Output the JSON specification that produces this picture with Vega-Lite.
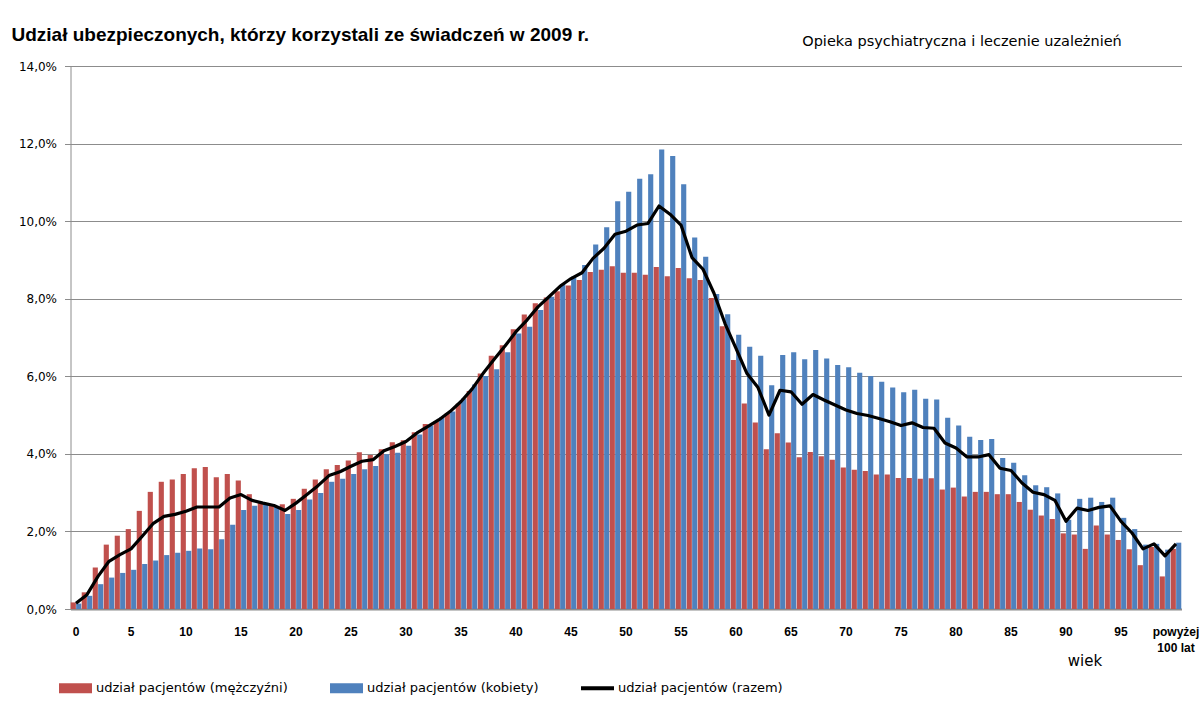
{
  "$schema": "https://vega.github.io/schema/vega-lite/v6.json",
  "width": 1111,
  "height": 543,
  "autosize": {"type": "none"},
  "padding": {"left": 70.5, "top": 66, "right": 18.5, "bottom": 111},
  "background": "white",
  "title": {
    "text": "Udział ubezpieczonych, którzy korzystali ze świadczeń w 2009 r.",
    "anchor": "start",
    "frame": "group",
    "font": "Liberation Sans",
    "fontSize": 19,
    "fontWeight": "bold",
    "color": "black",
    "baseline": "alphabetic",
    "dx": -59,
    "dy": 42,
    "offset": 16
  },
  "config": {"view": {"stroke": null}},
  "datasets": {
    "wiek": [
      {"wiek": 0, "mezczyzni": 0.17, "kobiety": 0.14, "razem": 0.15},
      {"wiek": 1, "mezczyzni": 0.43, "kobiety": 0.34, "razem": 0.37},
      {"wiek": 2, "mezczyzni": 1.07, "kobiety": 0.64, "razem": 0.84},
      {"wiek": 3, "mezczyzni": 1.66, "kobiety": 0.81, "razem": 1.23},
      {"wiek": 4, "mezczyzni": 1.89, "kobiety": 0.93, "razem": 1.4},
      {"wiek": 5, "mezczyzni": 2.06, "kobiety": 1.01, "razem": 1.55},
      {"wiek": 6, "mezczyzni": 2.53, "kobiety": 1.16, "razem": 1.87},
      {"wiek": 7, "mezczyzni": 3.02, "kobiety": 1.25, "razem": 2.2},
      {"wiek": 8, "mezczyzni": 3.28, "kobiety": 1.39, "razem": 2.39},
      {"wiek": 9, "mezczyzni": 3.34, "kobiety": 1.45, "razem": 2.44},
      {"wiek": 10, "mezczyzni": 3.48, "kobiety": 1.5, "razem": 2.52},
      {"wiek": 11, "mezczyzni": 3.63, "kobiety": 1.56, "razem": 2.63},
      {"wiek": 12, "mezczyzni": 3.66, "kobiety": 1.54, "razem": 2.63},
      {"wiek": 13, "mezczyzni": 3.4, "kobiety": 1.8, "razem": 2.63},
      {"wiek": 14, "mezczyzni": 3.48, "kobiety": 2.17, "razem": 2.86},
      {"wiek": 15, "mezczyzni": 3.31, "kobiety": 2.55, "razem": 2.95},
      {"wiek": 16, "mezczyzni": 2.96, "kobiety": 2.66, "razem": 2.8},
      {"wiek": 17, "mezczyzni": 2.73, "kobiety": 2.7, "razem": 2.73},
      {"wiek": 18, "mezczyzni": 2.66, "kobiety": 2.63, "razem": 2.67},
      {"wiek": 19, "mezczyzni": 2.7, "kobiety": 2.45, "razem": 2.54},
      {"wiek": 20, "mezczyzni": 2.84, "kobiety": 2.55, "razem": 2.73},
      {"wiek": 21, "mezczyzni": 3.1, "kobiety": 2.82, "razem": 2.95},
      {"wiek": 22, "mezczyzni": 3.34, "kobiety": 2.99, "razem": 3.18},
      {"wiek": 23, "mezczyzni": 3.6, "kobiety": 3.28, "razem": 3.44},
      {"wiek": 24, "mezczyzni": 3.71, "kobiety": 3.36, "razem": 3.54},
      {"wiek": 25, "mezczyzni": 3.83, "kobiety": 3.48, "razem": 3.68},
      {"wiek": 26, "mezczyzni": 4.04, "kobiety": 3.6, "razem": 3.81},
      {"wiek": 27, "mezczyzni": 3.97, "kobiety": 3.69, "razem": 3.85},
      {"wiek": 28, "mezczyzni": 4.12, "kobiety": 3.99, "razem": 4.08},
      {"wiek": 29, "mezczyzni": 4.3, "kobiety": 4.03, "razem": 4.19},
      {"wiek": 30, "mezczyzni": 4.35, "kobiety": 4.21, "razem": 4.32},
      {"wiek": 31, "mezczyzni": 4.56, "kobiety": 4.5, "razem": 4.54},
      {"wiek": 32, "mezczyzni": 4.77, "kobiety": 4.73, "razem": 4.71},
      {"wiek": 33, "mezczyzni": 4.84, "kobiety": 4.94, "razem": 4.88},
      {"wiek": 34, "mezczyzni": 5.05, "kobiety": 5.09, "razem": 5.09},
      {"wiek": 35, "mezczyzni": 5.29, "kobiety": 5.43, "razem": 5.35},
      {"wiek": 36, "mezczyzni": 5.62, "kobiety": 5.79, "razem": 5.67},
      {"wiek": 37, "mezczyzni": 6.07, "kobiety": 6.01, "razem": 6.07},
      {"wiek": 38, "mezczyzni": 6.53, "kobiety": 6.18, "razem": 6.43},
      {"wiek": 39, "mezczyzni": 6.8, "kobiety": 6.62, "razem": 6.78},
      {"wiek": 40, "mezczyzni": 7.21, "kobiety": 7.1, "razem": 7.15},
      {"wiek": 41, "mezczyzni": 7.59, "kobiety": 7.28, "razem": 7.45},
      {"wiek": 42, "mezczyzni": 7.88, "kobiety": 7.71, "razem": 7.79},
      {"wiek": 43, "mezczyzni": 8.03, "kobiety": 8.05, "razem": 8.05},
      {"wiek": 44, "mezczyzni": 8.19, "kobiety": 8.38, "razem": 8.32},
      {"wiek": 45, "mezczyzni": 8.34, "kobiety": 8.57, "razem": 8.52},
      {"wiek": 46, "mezczyzni": 8.48, "kobiety": 8.87, "razem": 8.67},
      {"wiek": 47, "mezczyzni": 8.69, "kobiety": 9.4, "razem": 9.04},
      {"wiek": 48, "mezczyzni": 8.75, "kobiety": 9.84, "razem": 9.3},
      {"wiek": 49, "mezczyzni": 8.84, "kobiety": 10.51, "razem": 9.66},
      {"wiek": 50, "mezczyzni": 8.67, "kobiety": 10.76, "razem": 9.74},
      {"wiek": 51, "mezczyzni": 8.67, "kobiety": 11.09, "razem": 9.9},
      {"wiek": 52, "mezczyzni": 8.62, "kobiety": 11.21, "razem": 9.94},
      {"wiek": 53, "mezczyzni": 8.82, "kobiety": 11.85, "razem": 10.39},
      {"wiek": 54, "mezczyzni": 8.58, "kobiety": 11.68, "razem": 10.18},
      {"wiek": 55, "mezczyzni": 8.79, "kobiety": 10.95, "razem": 9.9},
      {"wiek": 56, "mezczyzni": 8.53, "kobiety": 9.58, "razem": 9.06},
      {"wiek": 57, "mezczyzni": 8.48, "kobiety": 9.08, "razem": 8.76},
      {"wiek": 58, "mezczyzni": 8.02, "kobiety": 8.12, "razem": 8.14},
      {"wiek": 59, "mezczyzni": 7.29, "kobiety": 7.6, "razem": 7.36},
      {"wiek": 60, "mezczyzni": 6.42, "kobiety": 7.07, "razem": 6.72},
      {"wiek": 61, "mezczyzni": 5.3, "kobiety": 6.76, "razem": 6.07},
      {"wiek": 62, "mezczyzni": 4.81, "kobiety": 6.53, "razem": 5.71},
      {"wiek": 63, "mezczyzni": 4.12, "kobiety": 5.77, "razem": 5.0},
      {"wiek": 64, "mezczyzni": 4.53, "kobiety": 6.55, "razem": 5.64},
      {"wiek": 65, "mezczyzni": 4.29, "kobiety": 6.62, "razem": 5.6},
      {"wiek": 66, "mezczyzni": 3.91, "kobiety": 6.44, "razem": 5.28},
      {"wiek": 67, "mezczyzni": 4.05, "kobiety": 6.68, "razem": 5.53},
      {"wiek": 68, "mezczyzni": 3.94, "kobiety": 6.46, "razem": 5.39},
      {"wiek": 69, "mezczyzni": 3.85, "kobiety": 6.29, "razem": 5.26},
      {"wiek": 70, "mezczyzni": 3.65, "kobiety": 6.23, "razem": 5.13},
      {"wiek": 71, "mezczyzni": 3.59, "kobiety": 6.09, "razem": 5.04},
      {"wiek": 72, "mezczyzni": 3.56, "kobiety": 6.01, "razem": 4.99},
      {"wiek": 73, "mezczyzni": 3.47, "kobiety": 5.86, "razem": 4.91},
      {"wiek": 74, "mezczyzni": 3.47, "kobiety": 5.71, "razem": 4.83},
      {"wiek": 75, "mezczyzni": 3.38, "kobiety": 5.59, "razem": 4.73},
      {"wiek": 76, "mezczyzni": 3.38, "kobiety": 5.65, "razem": 4.8},
      {"wiek": 77, "mezczyzni": 3.36, "kobiety": 5.42, "razem": 4.68},
      {"wiek": 78, "mezczyzni": 3.37, "kobiety": 5.4, "razem": 4.66},
      {"wiek": 79, "mezczyzni": 3.08, "kobiety": 4.93, "razem": 4.28},
      {"wiek": 80, "mezczyzni": 3.13, "kobiety": 4.73, "razem": 4.15},
      {"wiek": 81, "mezczyzni": 2.9, "kobiety": 4.44, "razem": 3.92},
      {"wiek": 82, "mezczyzni": 3.02, "kobiety": 4.36, "razem": 3.92},
      {"wiek": 83, "mezczyzni": 3.02, "kobiety": 4.38, "razem": 3.98},
      {"wiek": 84, "mezczyzni": 2.96, "kobiety": 3.89, "razem": 3.63},
      {"wiek": 85, "mezczyzni": 2.96, "kobiety": 3.77, "razem": 3.57},
      {"wiek": 86, "mezczyzni": 2.76, "kobiety": 3.45, "razem": 3.25},
      {"wiek": 87, "mezczyzni": 2.56, "kobiety": 3.19, "razem": 3.01},
      {"wiek": 88, "mezczyzni": 2.41, "kobiety": 3.14, "razem": 2.95},
      {"wiek": 89, "mezczyzni": 2.32, "kobiety": 2.98, "razem": 2.8},
      {"wiek": 90, "mezczyzni": 1.95, "kobiety": 2.3, "razem": 2.26},
      {"wiek": 91, "mezczyzni": 1.92, "kobiety": 2.84, "razem": 2.6},
      {"wiek": 92, "mezczyzni": 1.55, "kobiety": 2.87, "razem": 2.54},
      {"wiek": 93, "mezczyzni": 2.15, "kobiety": 2.76, "razem": 2.62},
      {"wiek": 94, "mezczyzni": 1.92, "kobiety": 2.87, "razem": 2.66},
      {"wiek": 95, "mezczyzni": 1.78, "kobiety": 2.35, "razem": 2.26},
      {"wiek": 96, "mezczyzni": 1.54, "kobiety": 2.06, "razem": 1.96},
      {"wiek": 97, "mezczyzni": 1.13, "kobiety": 1.66, "razem": 1.55},
      {"wiek": 98, "mezczyzni": 1.6, "kobiety": 1.68, "razem": 1.68},
      {"wiek": 99, "mezczyzni": 0.84, "kobiety": 1.53, "razem": 1.37},
      {"wiek": 100, "mezczyzni": 1.55, "kobiety": 1.71, "razem": 1.68}
    ]
  },
  "data": {"name": "wiek"},
  "layer": [
    {
      "transform": [{"fold": ["mezczyzni", "kobiety"], "as": ["plec", "udzial"]}],
      "mark": {"type": "bar"},
      "encoding": {
        "x": {
          "field": "wiek",
          "type": "ordinal",
          "scale": {"paddingInner": 0.04, "paddingOuter": 0.02},
          "axis": {
            "title": "wiek",
            "labelAngle": 0,
            "labelExpr": "datum.value == 100 ? ['powyżej', '100 lat'] : (datum.value % 5 == 0 ? datum.label : '')",
            "labelOverlap": false,
            "ticks": false,
            "labelPadding": 17,
            "labelFont": "Liberation Sans",
            "labelFontWeight": "bold",
            "labelFontSize": 12,
            "labelLineHeight": 16,
            "labelColor": "black",
            "domainColor": "#8c8c8c",
            "domainWidth": 2,
            "titleFont": "DejaVu Sans",
            "titleFontSize": 15,
            "titleFontWeight": "normal",
            "titleColor": "black",
            "titleX": 1014,
            "titleY": 51,
            "titleAlign": "center",
            "titleBaseline": "middle"
          }
        },
        "xOffset": {"field": "plec", "type": "nominal", "scale": {"domain": ["mezczyzni", "kobiety"], "paddingInner": 0.05}},
        "y": {
          "field": "udzial",
          "type": "quantitative",
          "scale": {"domain": [0, 14]},
          "axis": {
            "title": null,
            "values": [0, 2, 4, 6, 8, 10, 12, 14],
            "labelExpr": "replace(format(datum.value, '.1f'), '.', ',') + '%'",
            "grid": true,
            "gridColor": "#8c8c8c",
            "domainColor": "#8c8c8c",
            "tickColor": "#8c8c8c",
            "tickSize": 6,
            "labelPadding": 8,
            "labelFont": "DejaVu Sans",
            "labelFontSize": 12,
            "labelColor": "black"
          }
        },
        "color": {
          "field": "plec",
          "type": "nominal",
          "scale": {"domain": ["mezczyzni", "kobiety", "razem"], "range": ["#C0504D", "#4F81BD", "#000000"]},
          "legend": {
            "orient": "none",
            "legendX": -11.5,
            "legendY": 605.5,
            "direction": "horizontal",
            "title": null,
            "padding": 0,
            "labelFont": "DejaVu Sans",
            "labelFontSize": 13,
            "labelColor": "black",
            "labelOffset": 4,
            "labelLimit": 400,
            "columnPadding": 42,
            "symbolSize": 1089,
            "labelExpr": "datum.value == 'mezczyzni' ? 'udział pacjentów (mężczyźni)' : (datum.value == 'kobiety' ? 'udział pacjentów (kobiety)' : 'udział pacjentów (razem)')",
            "encode": {
              "symbols": {
                "update": {
                  "shape": {"signal": "datum.value == 'razem' ? 'M-1,-0.12H1V0.12H-1Z' : 'M-1,-0.3H1V0.3H-1Z'"},
                  "fill": {"signal": "scale('color', datum.value)"},
                  "stroke": {"value": "transparent"},
                  "strokeWidth": {"value": 0},
                  "opacity": {"value": 1}
                }
              }
            }
          }
        }
      }
    },
    {
      "mark": {"type": "line", "strokeWidth": 3.2, "strokeJoin": "round"},
      "encoding": {
        "x": {"field": "wiek", "type": "ordinal"},
        "y": {"field": "razem", "type": "quantitative"},
        "color": {"datum": "razem"}
      }
    },
    {
      "data": {"values": [{"opis": "Opieka psychiatryczna i leczenie uzależnień"}]},
      "mark": {"type": "text", "font": "DejaVu Sans", "fontSize": 14.5, "color": "black", "dx": 6, "dy": -24, "baseline": "middle", "align": "center"},
      "encoding": {
        "x": {"datum": 80, "type": "ordinal"},
        "y": {"datum": 14, "type": "quantitative"},
        "text": {"field": "opis"}
      }
    }
  ]
}
